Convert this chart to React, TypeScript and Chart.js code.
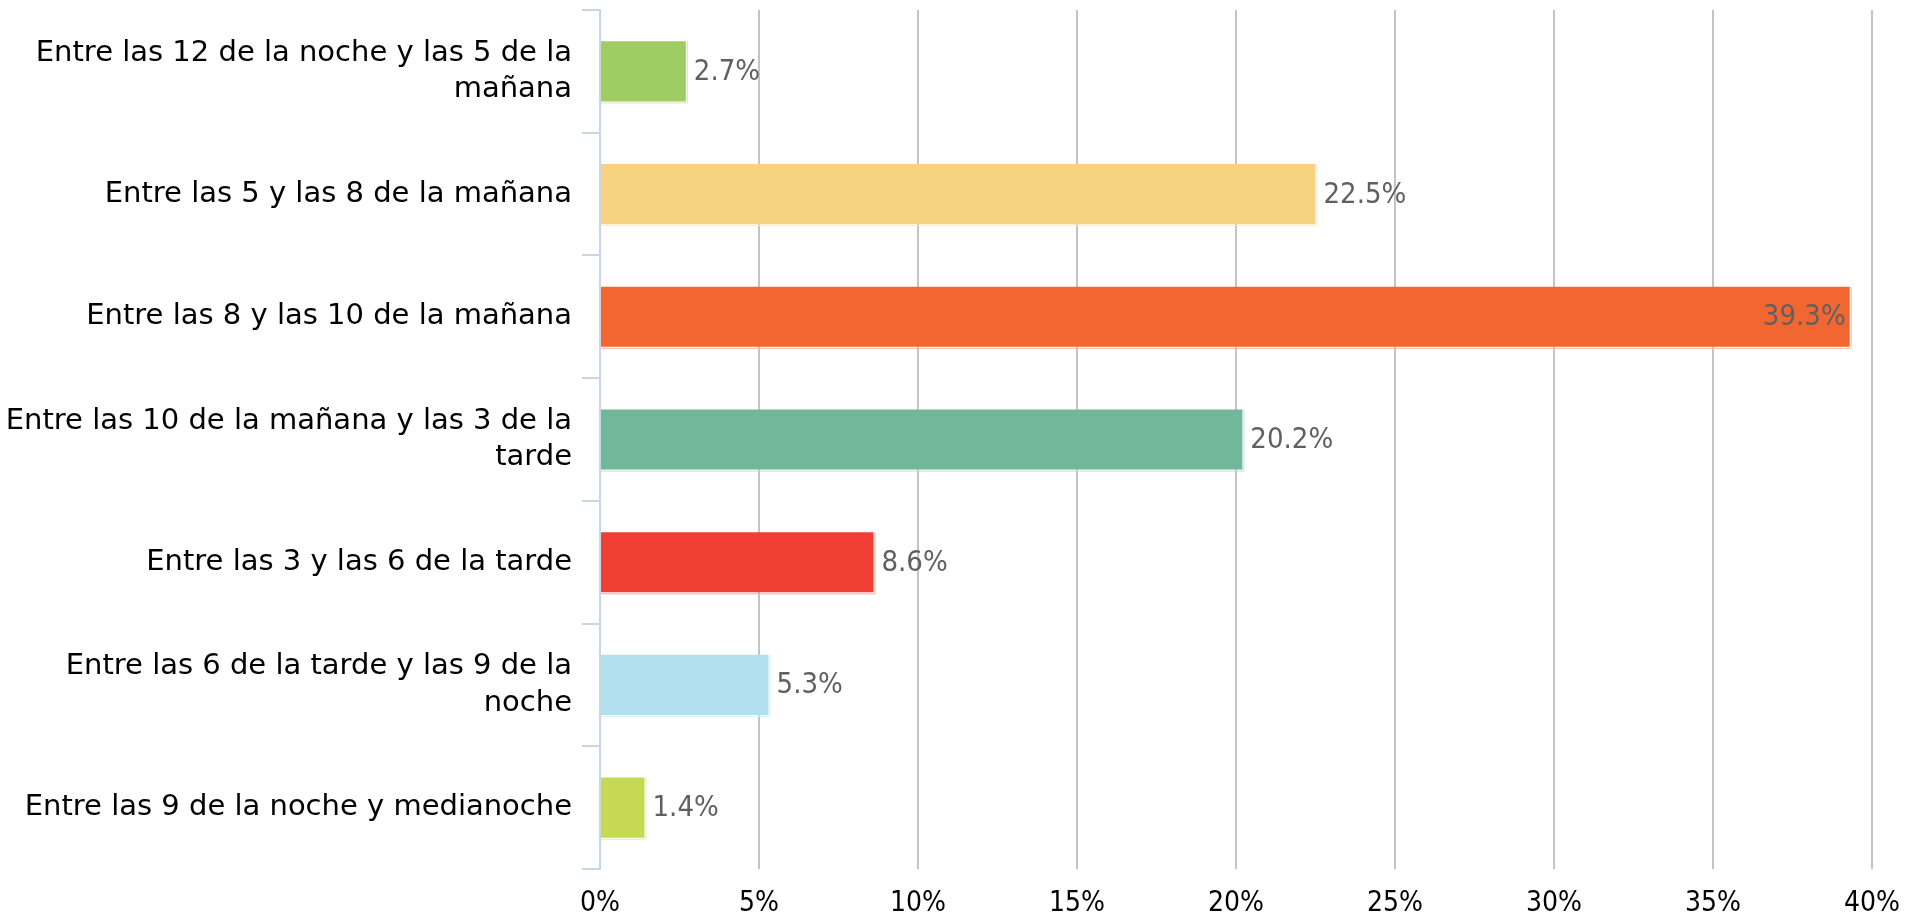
import React, { useEffect, useRef } from "react";
import { Chart, registerables } from "chart.js";

Chart.register(...registerables);

const categories: (string | string[])[] = [
  ["Entre las 12 de la noche y las 5 de la", "mañana"],
  "Entre las 5 y las 8 de la mañana",
  "Entre las 8 y las 10 de la mañana",
  ["Entre las 10 de la mañana y las 3 de la", "tarde"],
  "Entre las 3 y las 6 de la tarde",
  ["Entre las 6 de la tarde y las 9 de la", "noche"],
  "Entre las 9 de la noche y medianoche",
];

const values = [2.7, 22.5, 39.3, 20.2, 8.6, 5.3, 1.4];

const barColors = [
  "#a0cd63",
  "#f7d280",
  "#f26632",
  "#71b89a",
  "#ef3e33",
  "#b3e0ed",
  "#c5d954",
];

const xMin = 0;
const xMax = 40;
const xStep = 5;

const FONT_WIDE = "'DejaVu Sans', sans-serif";
const FONT_COND = "'DejaVu Sans Condensed', 'DejaVu Sans', sans-serif";

function lighten(hex: string, amt: number): string {
  const n = parseInt(hex.slice(1), 16);
  const r = (n >> 16) & 255, g = (n >> 8) & 255, b = n & 255;
  const f = (c: number) => Math.round(c + (255 - c) * amt);
  return `rgb(${f(r)},${f(g)},${f(b)})`;
}

const labelPlugin = {
  id: "barValueLabels",
  afterDatasetsDraw(chart: any) {
    const ctx = chart.ctx;
    const meta = chart.getDatasetMeta(0);
    const area = chart.chartArea;
    ctx.save();
    meta.data.forEach((bar: any, i: number) => {
      const { x, y, base, height } = bar.getProps(["x", "y", "base", "height"], true);
      const top = y - height / 2;
      const bottom = y + height / 2;
      ctx.strokeStyle = lighten(barColors[i], 0.55);
      ctx.lineWidth = 1;
      ctx.beginPath();
      ctx.moveTo(x + 1.5, top);
      ctx.lineTo(x + 1.5, bottom + 1.5);
      ctx.lineTo(base, bottom + 1.5);
      ctx.stroke();

      const text = values[i].toFixed(1) + "%";
      ctx.font = `29px ${FONT_COND}`;
      ctx.fillStyle = "#606060";
      ctx.textBaseline = "middle";
      const w = ctx.measureText(text).width;
      if (x + 8 + w > area.right) {
        ctx.textAlign = "right";
        ctx.fillText(text, x - 4, y + 1);
      } else {
        ctx.textAlign = "left";
        ctx.fillText(text, x + 8, y + 1);
      }
    });
    ctx.restore();
  },
};

export default function App() {
  const canvasRef = useRef<HTMLCanvasElement | null>(null);

  useEffect(() => {
    document.body.style.margin = "0";
    const canvas = canvasRef.current;
    if (!canvas) return;
    const chart = new Chart(canvas, {
      type: "bar",
      data: {
        labels: categories,
        datasets: [
          {
            data: values,
            backgroundColor: barColors,
            borderWidth: 0,
            barPercentage: 0.49,
            categoryPercentage: 1,
          },
        ],
      },
      options: {
        indexAxis: "y",
        animation: false,
        responsive: true,
        maintainAspectRatio: false,
        layout: { padding: { top: 10, right: 39, left: 0, bottom: 0 } },
        plugins: {
          legend: { display: false },
          tooltip: { enabled: false },
        },
        scales: {
          y: {
            type: "category",
            afterFit: (scale: any) => {
              scale.width = 600;
              scale.paddingTop = 0;
              scale.paddingBottom = 0;
            },
            grid: {
              offset: true,
              drawOnChartArea: false,
              drawTicks: true,
              tickLength: 18,
              color: "#c6d6e6",
              lineWidth: 2,
            },
            border: { display: true, color: "#c6d6e6", width: 2 },
            ticks: {
              color: "#000000",
              padding: 10,
              font: { family: FONT_WIDE, size: 29, lineHeight: 1.26 },
            },
          },
          x: {
            type: "linear",
            min: xMin,
            max: xMax,
            afterFit: (scale: any) => {
              scale.height = 47;
              scale.paddingLeft = 0;
              scale.paddingRight = 0;
            },
            grid: {
              drawTicks: false,
              color: (c: any) => (c.tick && c.tick.value === 0 ? "rgba(0,0,0,0)" : "#c4c4c4"),
              lineWidth: 2,
            },
            border: { display: false },
            ticks: {
              stepSize: xStep,
              color: "#000000",
              padding: 18,
              font: { family: FONT_COND, size: 28 },
              callback: (v: any) => v + "%",
            },
          },
        },
      },
      plugins: [labelPlugin],
    });
    return () => chart.destroy();
  }, []);

  return (
    <div style={{ position: "fixed", left: 0, top: 0, width: 1911, height: 916 }}>
      <canvas ref={canvasRef} />
    </div>
  );
}
